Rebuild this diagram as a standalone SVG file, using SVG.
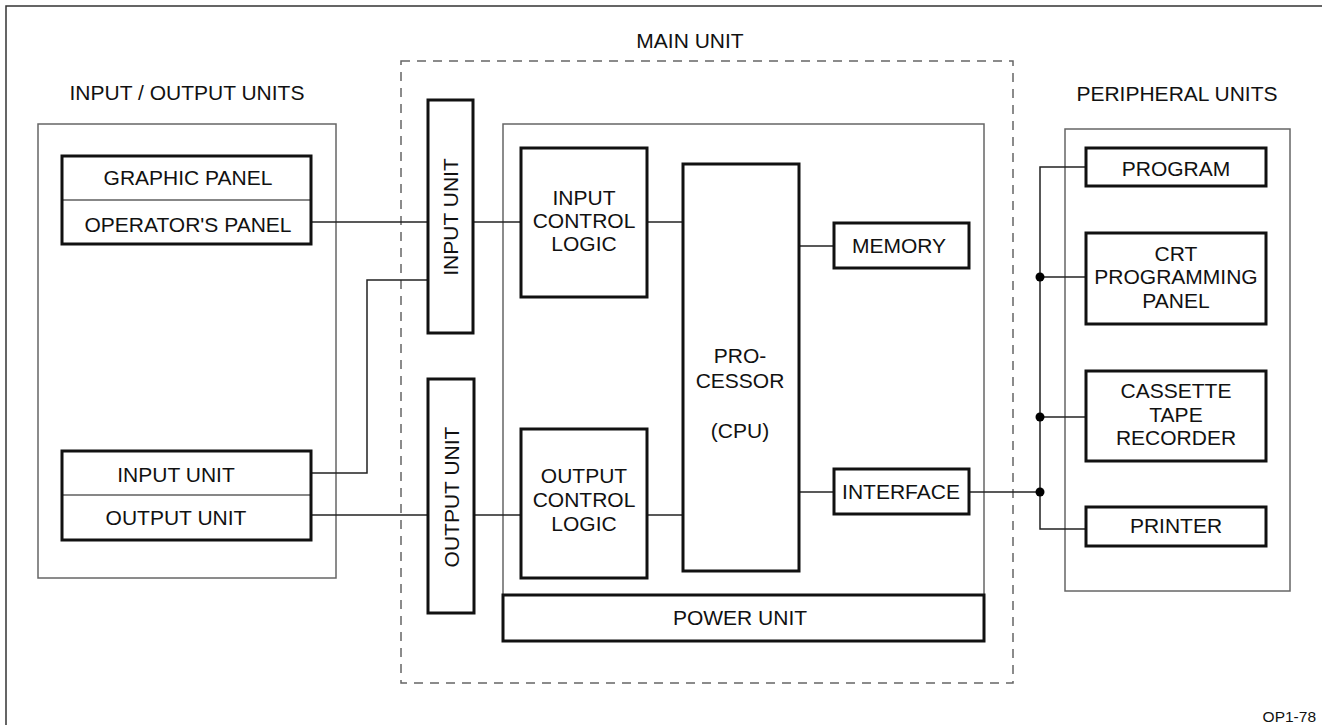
<svg xmlns="http://www.w3.org/2000/svg" width="1322" height="725" viewBox="0 0 1322 725">
<style>
text{font-family:"Liberation Sans",Arial,sans-serif;font-size:21px;fill:#111;text-anchor:middle}
.frame{fill:none;stroke:#333;stroke-width:1.5}
.group{fill:none;stroke:#666;stroke-width:1.5}
.dash{fill:none;stroke:#666;stroke-width:1.5;stroke-dasharray:9 7}
.box{fill:#fff;stroke:#111;stroke-width:3}
.div{stroke:#111;stroke-width:1.2}
.wire{fill:none;stroke:#222;stroke-width:1.5}
.dot{fill:#000}
.small{font-size:15.5px;text-anchor:end}
</style>
<rect class="frame" x="6" y="6" width="1330" height="740"/>
<g id="io-units">
<rect class="group" x="38" y="124" width="298" height="454"/>
<text x="187" y="100">INPUT / OUTPUT UNITS</text>
</g>
<g id="main-unit">
<rect class="dash" x="401" y="61" width="612" height="622"/>
<text x="690" y="48">MAIN UNIT</text>
<rect class="group" x="503" y="124" width="481" height="471"/>
</g>
<g id="peripheral-units">
<rect class="group" x="1065" y="129" width="225" height="462"/>
<text x="1177" y="101">PERIPHERAL UNITS</text>
</g>
<g id="connectors">
<line class="wire" x1="311" y1="222" x2="428" y2="222"/>
<path class="wire" d="M311,473 H367 V280 H428"/>
<line class="wire" x1="311" y1="515" x2="428" y2="515"/>
<line class="wire" x1="473" y1="222" x2="521" y2="222"/>
<line class="wire" x1="647" y1="222" x2="683" y2="222"/>
<line class="wire" x1="474" y1="515" x2="521" y2="515"/>
<line class="wire" x1="647" y1="515" x2="683" y2="515"/>
<line class="wire" x1="799" y1="246" x2="834" y2="246"/>
<line class="wire" x1="799" y1="492" x2="834" y2="492"/>
<line class="wire" x1="969" y1="492" x2="1040" y2="492"/>
<path class="wire" d="M1086,167 H1040 V529 H1086"/>
<line class="wire" x1="1040" y1="277" x2="1086" y2="277"/>
<line class="wire" x1="1040" y1="417" x2="1086" y2="417"/>
<circle class="dot" cx="1040" cy="277" r="4.5"/>
<circle class="dot" cx="1040" cy="417" r="4.5"/>
<circle class="dot" cx="1040" cy="492" r="4.5"/>
</g>
<g id="graphic-operator-panel">
<rect class="box" x="62" y="156" width="249" height="88"/>
<line class="div" x1="62" y1="200" x2="311" y2="200"/>
<text x="188" y="185">GRAPHIC PANEL</text>
<text x="188" y="232">OPERATOR'S PANEL</text>
</g>
<g id="input-output-unit">
<rect class="box" x="62" y="451" width="249" height="89"/>
<line class="div" x1="62" y1="495" x2="311" y2="495"/>
<text x="176" y="482">INPUT UNIT</text>
<text x="176" y="525">OUTPUT UNIT</text>
</g>
<g id="input-unit">
<rect class="box" x="428" y="100" width="45" height="233"/>
<text transform="translate(458,217) rotate(-90)">INPUT UNIT</text>
</g>
<g id="output-unit">
<rect class="box" x="428" y="379" width="46" height="234"/>
<text transform="translate(459,497) rotate(-90)">OUTPUT UNIT</text>
</g>
<g id="input-control-logic">
<rect class="box" x="521" y="148" width="126" height="149"/>
<text x="584" y="205">INPUT</text>
<text x="584" y="228">CONTROL</text>
<text x="584" y="251">LOGIC</text>
</g>
<g id="output-control-logic">
<rect class="box" x="521" y="429" width="126" height="149"/>
<text x="584" y="483">OUTPUT</text>
<text x="584" y="507">CONTROL</text>
<text x="584" y="531">LOGIC</text>
</g>
<g id="processor">
<rect class="box" x="683" y="164" width="116" height="407"/>
<text x="740" y="363">PRO-</text>
<text x="740" y="388">CESSOR</text>
<text x="740" y="438">(CPU)</text>
</g>
<g id="memory">
<rect class="box" x="834" y="223" width="135" height="45"/>
<text x="899" y="253">MEMORY</text>
</g>
<g id="interface">
<rect class="box" x="834" y="469" width="135" height="45"/>
<text x="901" y="499">INTERFACE</text>
</g>
<g id="power-unit">
<rect class="box" x="503" y="595" width="481" height="46"/>
<text x="740" y="625">POWER UNIT</text>
</g>
<g id="program">
<rect class="box" x="1086" y="148" width="180" height="38"/>
<text x="1176" y="176">PROGRAM</text>
</g>
<g id="crt-panel">
<rect class="box" x="1086" y="233" width="180" height="91"/>
<text x="1176" y="261">CRT</text>
<text x="1176" y="284">PROGRAMMING</text>
<text x="1176" y="308">PANEL</text>
</g>
<g id="cassette">
<rect class="box" x="1086" y="371" width="180" height="90"/>
<text x="1176" y="398">CASSETTE</text>
<text x="1176" y="422">TAPE</text>
<text x="1176" y="445">RECORDER</text>
</g>
<g id="printer">
<rect class="box" x="1086" y="507" width="180" height="39"/>
<text x="1176" y="533">PRINTER</text>
</g>
<text class="small" x="1316" y="722">OP1-78</text>
</svg>
